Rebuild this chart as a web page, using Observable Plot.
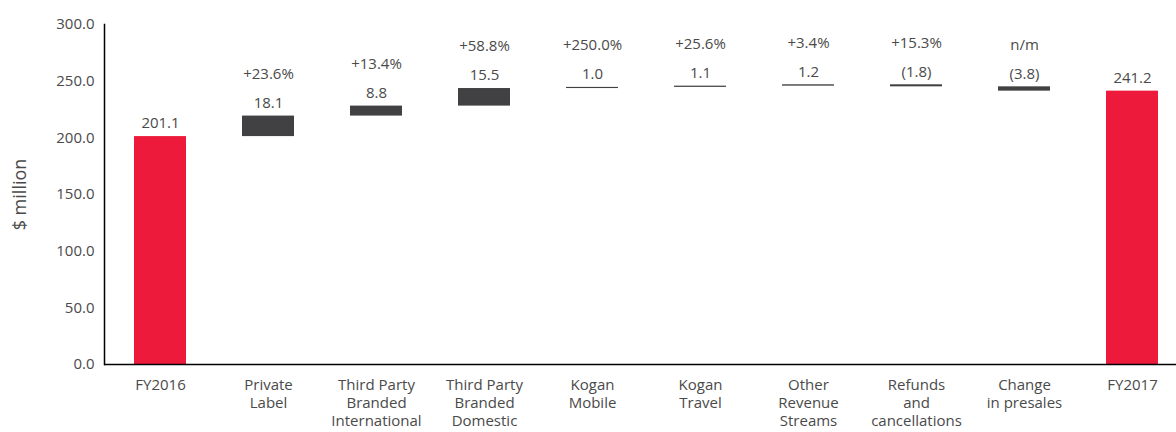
<!DOCTYPE html>
<html>
<head>
<meta charset="utf-8">
<script src="https://cdn.jsdelivr.net/npm/d3@7"></script>
<script src="https://cdn.jsdelivr.net/npm/@observablehq/plot@0.6"></script>
<style>
  html, body { margin: 0; padding: 0; background: #fff; }
  #chart { width: 1176px; height: 432px; overflow: hidden; }
</style>
</head>
<body>
<div id="chart"></div>
<script>
const categories = ["FY2016", "Private Label", "Third Party Branded International", "Third Party Branded Domestic", "Kogan Mobile", "Kogan Travel", "Other Revenue Streams", "Refunds and cancellations", "Change in presales", "FY2017"];
const tickLabels = ["FY2016", "Private\nLabel", "Third Party\nBranded\nInternational", "Third Party\nBranded\nDomestic", "Kogan\nMobile", "Kogan\nTravel", "Other\nRevenue\nStreams", "Refunds\nand\ncancellations", "Change\nin presales", "FY2017"];
const kinds = ["total", "delta", "delta", "delta", "delta", "delta", "delta", "delta", "delta", "total"];
const values = [201.1, 18.1, 8.8, 15.5, 1.0, 1.1, 1.2, -1.8, -3.8, 241.2];
const valueLabels = ["201.1", "18.1", "8.8", "15.5", "1.0", "1.1", "1.2", "(1.8)", "(3.8)", "241.2"];
const growthLabels = ["", "+23.6%", "+13.4%", "+58.8%", "+250.0%", "+25.6%", "+3.4%", "+15.3%", "n/m", ""];
const yTicks = [0, 50, 100, 150, 200, 250, 300];

const RED = "#ee1a3b";
const DARK = "#414042";
const TEXT = "#4a4a4a";

let running = 0;
const rows = categories.map((cat, i) => {
  let y1, y2;
  if (kinds[i] === "total") { y1 = 0; y2 = values[i]; running = values[i]; }
  else { y1 = running; y2 = running + values[i]; running = y2; }
  return { cat, kind: kinds[i], y1, y2, top: Math.max(y1, y2), label: valueLabels[i], growth: growthLabels[i] };
});

const chart = Plot.plot({
  width: 1176,
  height: 432,
  marginTop: 24,
  marginBottom: 68,
  marginLeft: 104,
  marginRight: 0,
  style: { fontFamily: "'Open Sans', sans-serif", fontSize: "15px", color: TEXT, background: "#fff" },
  x: { domain: categories, range: [104, 1187], paddingInner: 0.52, paddingOuter: 0.26 },
  y: { domain: [0, 300] },
  marks: [
    Plot.barY(rows, { x: "cat", y1: "y1", y2: "y2", fill: d => d.kind === "total" ? RED : DARK }),
    Plot.text(rows, { x: "cat", y: "top", text: "label", dy: -13, fill: TEXT, fontSize: 15 }),
    Plot.text(rows.filter(d => d.growth), { x: "cat", y: "top", text: "growth", dy: -42, fill: TEXT, fontSize: 15 }),
    Plot.axisY({ ticks: yTicks, tickFormat: d => d.toFixed(1), tickSize: 0, tickPadding: 10, label: null, fill: TEXT, fontSize: 15 }),
    Plot.axisX({ tickSize: 0, tickPadding: 13, tickFormat: d => tickLabels[categories.indexOf(d)], lineHeight: 1.2, label: null, fill: TEXT, fontSize: 15 }),
    Plot.text(["$ million"], { frameAnchor: "left", textAnchor: "middle", dx: -84, rotate: -90, text: d => d, fill: TEXT, fontSize: 18 }),
    Plot.ruleY([0], { stroke: "#000", strokeWidth: 1.5 }),
    Plot.frame({ anchor: "left", stroke: "#000", strokeWidth: 1.5 })
  ]
});
document.getElementById("chart").appendChild(chart);
</script>
</body>
</html>
